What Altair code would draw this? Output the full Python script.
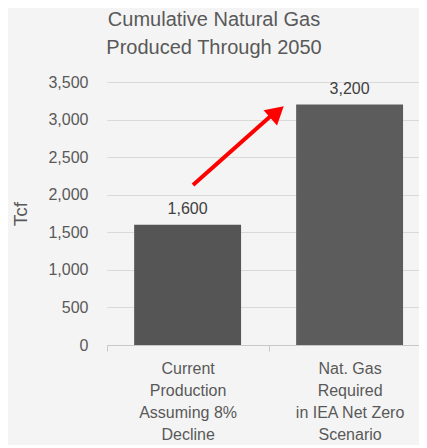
import altair as alt
import pandas as pd

categories = ["Current|Production|Assuming 8%|Decline",
              "Nat. Gas|Required|in IEA Net Zero|Scenario"]
values = [1600, 3200]
value_labels = ["1,600", "3,200"]
bar_colors = ["#555555", "#5c5c5c"]
y_ticks = [0, 500, 1000, 1500, 2000, 2500, 3000, 3500]

# arrow annotation (pixel x within plot, data-unit y)
arrow_x = [86, 164]
arrow_y = [2130, 3050]
arrow_head_x = [170]
arrow_head_y = [3100]

df = pd.DataFrame({"cat": categories, "value": values,
                   "label": value_labels, "color": bar_colors})
arrow_df = pd.DataFrame({"x0": [arrow_x[0]], "x1": [arrow_x[1]],
                         "value": [arrow_y[0]], "value_end": [arrow_y[1]]})
head_df = pd.DataFrame({"hx": arrow_head_x, "value": arrow_head_y})

grey = "#595959"
font = "Liberation Sans"

x_enc = alt.X("cat:N", sort=None, title=None,
              scale=alt.Scale(paddingInner=0.34, paddingOuter=0.133, align=0.63),
              axis=alt.Axis(labelExpr="split(datum.label, '|')", labelAngle=0,
                            labelFontSize=16, labelColor=grey, labelFont=font,
                            labelLineHeight=22, labelBaseline="top", labelPadding=9,
                            domainColor="#c8c8c8", tickColor="#c8c8c8",
                            tickOffset=-81, labelOffset=81, tickSize=6, grid=False))
y_axis = alt.Axis(values=y_ticks, format=",d", labelFontSize=16, labelColor=grey,
                  labelFont=font, labelPadding=19, tickSize=0, domain=False,
                  gridColor="#d9d9d9", gridWidth=1, grid=True,
                  titleFontSize=19, titleFont=font, titleColor=grey,
                  titleFontWeight="normal", titlePadding=17)
y_scale = alt.Scale(domain=[0, 3500], nice=False)


def y_enc():
    return alt.Y("value:Q", scale=y_scale, title="Tcf", axis=y_axis)


bars = alt.Chart(df).mark_bar().encode(
    x=x_enc, y=y_enc(), color=alt.Color("color:N", scale=None))

texts = alt.Chart(df).mark_text(dy=-16, fontSize=16, font=font, color="#404040").encode(
    x=alt.X("cat:N", sort=None), y=y_enc(), text="label:N")

arrow = alt.Chart(arrow_df).mark_rule(color="#ff0000", strokeWidth=4).encode(
    x=alt.X("x0:Q", scale=None), x2="x1:Q",
    y=y_enc(), y2="value_end:Q")

head = alt.Chart(head_df).mark_point(shape="triangle-up", filled=True, size=420,
                                     angle=49, color="#ff0000", opacity=1).encode(
    x=alt.X("hx:Q", scale=None), y=y_enc())

chart = alt.layer(bars, texts, arrow, head).properties(
    width=312, height=263,
    autosize=alt.AutoSizeParams(type="none"),
    padding={"left": 99, "top": 74, "right": 0, "bottom": 100},
    background="#f4f4f4",
    title=alt.TitleParams(["Cumulative Natural Gas", "Produced Through 2050"],
                          fontSize=20, font=font, color=grey, fontWeight="normal",
                          anchor="middle", dx=-49, offset=16, lineHeight=28)
).configure_view(stroke=None)

chart.save("out.html", embed_options={"renderer": "svg", "actions": False})
